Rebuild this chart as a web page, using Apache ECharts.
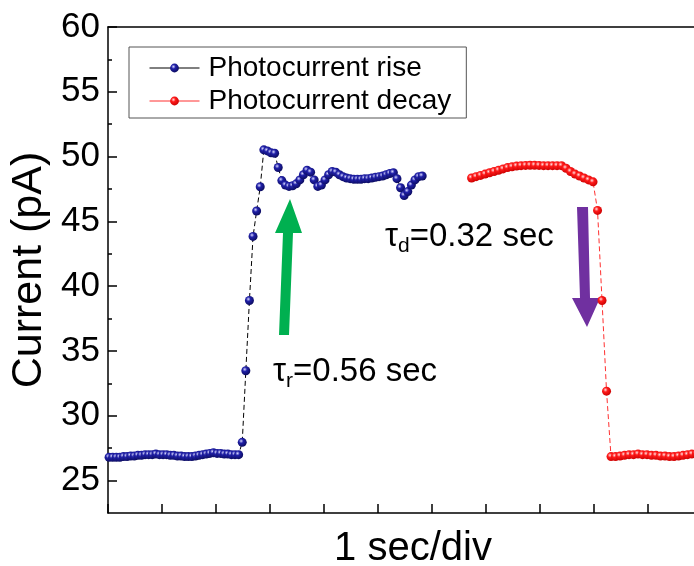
<!DOCTYPE html>
<html>
<head>
<meta charset="utf-8">
<script src="https://cdn.jsdelivr.net/npm/echarts@6/dist/echarts.min.js"></script>
<style>
  html, body { margin: 0; padding: 0; background: #fff; }
  #chart { width: 694px; height: 566px; }
</style>
</head>
<body>
<div id="chart"></div>
<script>
const font = 'Liberation Sans, Arial, sans-serif'

// photocurrent rise, sampled every 1/15 s from t = 0.02 s
const riseStart = 0.02
const riseStep = 1 / 15
const riseCurrent = [
  26.8, 26.8, 26.8, 26.8, 26.85, 26.85, 26.9, 26.9, 26.95, 26.95,
  27.0, 27.0, 27.0, 27.05, 27.0, 27.0, 27.0, 26.95, 26.95, 26.9,
  26.9, 26.85, 26.85, 26.85, 26.9, 26.95, 27.0, 27.05, 27.1, 27.15,
  27.1, 27.1, 27.05, 27.05, 27.0, 27.0, 27.0,
  27.95, 33.48, 38.9, 43.84, 45.8, 47.67, 50.52, 50.44, 50.3, 50.26, 49.16, 48.15,
  47.8, 47.7, 47.75, 47.9, 48.2, 48.6, 48.95, 48.8, 48.2, 47.7,
  47.8, 48.2, 48.6, 48.85, 48.8, 48.6, 48.45, 48.35, 48.3, 48.25,
  48.25, 48.25, 48.3, 48.3, 48.35, 48.4, 48.45, 48.5, 48.6, 48.7,
  48.75, 48.3, 47.6, 47.0, 47.3, 47.8, 48.2, 48.45, 48.5
]

// photocurrent decay, sampled every 1/12 s from t = 6.735 s
const decayStart = 6.735
const decayStep = 1 / 12
const decayCurrent = [
  48.35, 48.45, 48.55, 48.65, 48.75, 48.85, 48.95, 49.05, 49.15, 49.22,
  49.27, 49.3, 49.32, 49.33, 49.33, 49.32, 49.3, 49.3, 49.3, 49.3,
  49.3, 49.1, 48.85, 48.65, 48.5, 48.35, 48.2, 48.05,
  45.85, 38.9, 31.9,
  26.85, 26.85, 26.9, 26.95, 27.0, 27.0, 27.05, 27.0, 27.0, 26.95,
  26.95, 26.9, 26.9, 26.85, 26.85, 26.9, 26.95, 27.0, 27.05, 27.1
]

const yMajorTicks = [25, 30, 35, 40, 45, 50, 55, 60]
const yMinorTicks = [27.5, 32.5, 37.5, 42.5, 47.5, 52.5, 57.5]

function ball(light, mid, dark) {
  return {
    type: 'radial', x: 0.38, y: 0.35, r: 0.7,
    colorStops: [
      { offset: 0, color: light },
      { offset: 0.35, color: mid },
      { offset: 1, color: dark }
    ]
  }
}

const chart = echarts.init(document.getElementById('chart'))

const annot = {
  a: { fontFamily: font, fontSize: 33, fill: '#000', lineHeight: 40 },
  b: { fontFamily: font, fontSize: 21, fill: '#000', lineHeight: 16, verticalAlign: 'bottom' }
}

chart.setOption({
  animation: false,
  grid: { left: 108, top: 27, right: -24, bottom: 53, outerBoundsMode: 'none' },
  legend: {
    orient: 'vertical',
    left: 129,
    top: 47,
    padding: [7, 15, 3, 20],
    itemGap: 5,
    itemWidth: 50,
    itemHeight: 11,
    borderColor: '#555',
    borderWidth: 1,
    lineStyle: { type: 'solid', width: 1 },
    textStyle: { fontFamily: font, fontSize: 28, color: '#000', padding: [0, 0, 0, 4] }
  },
  xAxis: [{
    type: 'value',
    min: 0,
    max: 11.3,
    interval: 1,
    axisLine: { lineStyle: { color: '#000', width: 1.5 } },
    axisTick: { inside: true, length: 9, lineStyle: { color: '#000', width: 1.5 } },
    axisLabel: { show: false },
    splitLine: { show: false },
    name: '1 sec/div',
    nameLocation: 'middle',
    nameGap: 16,
    nameTextStyle: { fontFamily: font, fontSize: 40, color: '#000', verticalAlign: 'top' }
  }, {
    type: 'value',
    position: 'top',
    min: 0,
    max: 11.3,
    axisLine: { show: true, lineStyle: { color: '#000', width: 1.5 } },
    axisTick: { show: false },
    axisLabel: { show: false },
    splitLine: { show: false }
  }],
  yAxis: [{
    type: 'value',
    min: 22.5,
    max: 60,
    axisLine: { show: true, lineStyle: { color: '#000', width: 1.5 } },
    axisTick: { show: true, inside: true, length: 9, customValues: yMajorTicks, lineStyle: { color: '#000', width: 1.5 } },
    axisLabel: { customValues: yMajorTicks, fontFamily: font, fontSize: 35, color: '#000', margin: 8 },
    splitLine: { show: false },
    name: 'Current (pA)',
    nameLocation: 'middle',
    nameGap: 57,
    nameTextStyle: { fontFamily: font, fontSize: 43, color: '#000' }
  }, {
    type: 'value',
    position: 'left',
    min: 22.5,
    max: 60,
    axisLine: { show: false },
    axisTick: { show: true, inside: true, length: 4, customValues: yMinorTicks, lineStyle: { color: '#000', width: 1.5 } },
    axisLabel: { show: false },
    splitLine: { show: false }
  }],
  series: [{
    name: 'Photocurrent rise',
    type: 'line',
    data: riseCurrent.map((v, i) => [riseStart + i * riseStep, v]),
    symbol: 'circle',
    symbolSize: 9,
    lineStyle: { color: '#000', width: 1, type: [5, 3] },
    itemStyle: { color: ball('#d8d8ff', '#2020a8', '#0a0a5a') }
  }, {
    name: 'Photocurrent decay',
    type: 'line',
    data: decayCurrent.map((v, i) => [decayStart + i * decayStep, v]),
    symbol: 'circle',
    symbolSize: 9,
    lineStyle: { color: '#ff3030', width: 1, type: [5, 3] },
    itemStyle: { color: ball('#ffe0e0', '#ff1a1a', '#c80000') }
  }],
  graphic: [{
    type: 'polygon',
    shape: { points: [[279, 335], [289, 335], [293, 233], [302, 233], [290, 199], [275, 233], [283, 233]] },
    style: { fill: '#00b050' }
  }, {
    type: 'polygon',
    shape: { points: [[577, 207], [588, 207], [590, 298], [600, 298], [587, 327], [572, 298], [580, 298]] },
    style: { fill: '#7030a0' }
  }, {
    type: 'text',
    left: 273,
    top: 355,
    style: { text: '{a|τ}{b|r}{a|=0.56 sec}', rich: annot }
  }, {
    type: 'text',
    left: 385,
    top: 220,
    style: { text: '{a|τ}{b|d}{a|=0.32 sec}', rich: annot }
  }]
})
</script>
</body>
</html>
